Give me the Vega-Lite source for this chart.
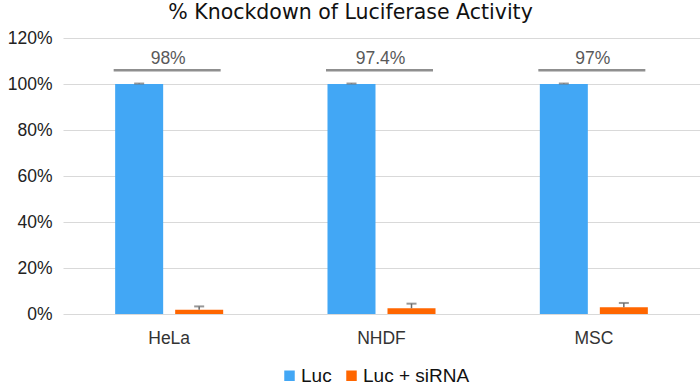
{
  "$schema": "https://vega.github.io/schema/vega-lite/v6.json",
  "autosize": {"type": "none"},
  "width": 637,
  "height": 276,
  "padding": {"left": 63, "top": 38, "right": 0, "bottom": 74},
  "background": "white",
  "config": {
    "view": {"stroke": null},
    "font": "Liberation Sans"
  },
  "title": {
    "text": "% Knockdown of Luciferase Activity",
    "font": "DejaVu Sans",
    "fontSize": 20.5,
    "fontWeight": "normal",
    "color": "#111111",
    "anchor": "middle",
    "baseline": "top",
    "offset": 6,
    "dx": -31
  },
  "datasets": {
    "bars": [
      {"cell": "HeLa", "group": "Luc", "value": 100, "hi": 100.2},
      {"cell": "HeLa", "group": "Luc + siRNA", "value": 1.9, "hi": 3.3},
      {"cell": "NHDF", "group": "Luc", "value": 100, "hi": 100.2},
      {"cell": "NHDF", "group": "Luc + siRNA", "value": 2.5, "hi": 4.5},
      {"cell": "MSC", "group": "Luc", "value": 100, "hi": 100.2},
      {"cell": "MSC", "group": "Luc + siRNA", "value": 2.9, "hi": 4.8}
    ],
    "kd": [
      {"cell": "HeLa", "y": 106, "label": "98%"},
      {"cell": "NHDF", "y": 106, "label": "97.4%"},
      {"cell": "MSC", "y": 106, "label": "97%"}
    ]
  },
  "encoding": {
    "x": {
      "field": "cell",
      "type": "nominal",
      "sort": ["HeLa", "NHDF", "MSC"],
      "scale": {"paddingInner": 0, "paddingOuter": 0},
      "axis": {
        "title": null,
        "labelAngle": 0,
        "domain": false,
        "ticks": false,
        "labelPadding": 15,
        "labelFontSize": 17.5,
        "labelColor": "#333333"
      }
    }
  },
  "layer": [
    {
      "data": {"name": "bars"},
      "mark": {"type": "bar"},
      "encoding": {
        "xOffset": {
          "field": "group",
          "type": "nominal",
          "sort": ["Luc", "Luc + siRNA"],
          "scale": {"paddingInner": 0.2, "paddingOuter": 0.869}
        },
        "y": {
          "field": "value",
          "type": "quantitative",
          "scale": {"domain": [0, 120], "nice": false},
          "axis": {
            "title": null,
            "values": [0, 20, 40, 60, 80, 100, 120],
            "labelExpr": "datum.value + '%'",
            "domain": false,
            "ticks": false,
            "labelPadding": 11,
            "labelFontSize": 17.5,
            "labelColor": "#222222",
            "gridColor": "#d9d9d9",
            "gridWidth": 1.2
          }
        },
        "color": {
          "field": "group",
          "type": "nominal",
          "sort": ["Luc", "Luc + siRNA"],
          "scale": {"domain": ["Luc", "Luc + siRNA"], "range": ["#42A7F5", "#FF6600"]},
          "legend": {
            "title": null,
            "orient": "none",
            "direction": "horizontal",
            "legendX": 217,
            "legendY": 328,
            "symbolType": "square",
            "symbolSize": 110,
            "symbolStrokeWidth": 0,
            "labelFontSize": 19,
            "labelColor": "#111111",
            "labelOffset": 2,
            "columnPadding": 10,
            "encode": {
              "symbols": {
                "update": {
                  "fill": {"signal": "datum.value === 'Luc' ? '#5B9BD5' : '#FF6600'"},
                  "stroke": {"value": "transparent"}
                }
              }
            }
          }
        }
      }
    },
    {
      "data": {"name": "bars"},
      "mark": {"type": "rule", "color": "#6b6b6b", "strokeWidth": 1.5},
      "encoding": {
        "xOffset": {"field": "group", "type": "nominal", "sort": ["Luc", "Luc + siRNA"]},
        "y": {"field": "value", "type": "quantitative"},
        "y2": {"field": "hi"}
      }
    },
    {
      "data": {"name": "bars"},
      "mark": {"type": "tick", "color": "#6b6b6b", "size": 10, "thickness": 2},
      "encoding": {
        "xOffset": {"field": "group", "type": "nominal", "sort": ["Luc", "Luc + siRNA"]},
        "y": {"field": "hi", "type": "quantitative"}
      }
    },
    {
      "data": {"name": "kd"},
      "mark": {"type": "tick", "color": "#5f5f5f", "size": 107, "thickness": 2.5, "xOffset": -2},
      "encoding": {
        "y": {"field": "y", "type": "quantitative"}
      }
    },
    {
      "data": {"name": "kd"},
      "mark": {"type": "text", "color": "#595959", "fontSize": 17.5, "baseline": "alphabetic", "dy": -6, "dx": -1},
      "encoding": {
        "y": {"field": "y", "type": "quantitative"},
        "text": {"field": "label"}
      }
    }
  ]
}
